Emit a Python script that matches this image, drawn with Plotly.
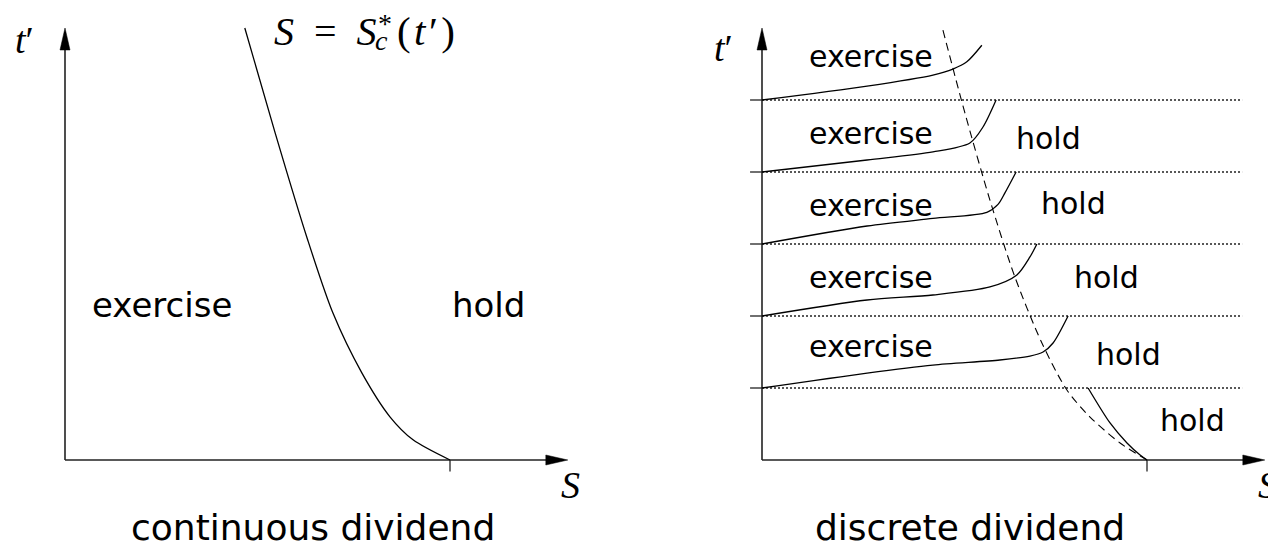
import plotly.graph_objects as go

# Units: S in multiples of the strike K, t' in dividend periods.
PX_PER_S = 385.0   # horizontal pixels per unit of S
PX_PER_T = 72.0    # vertical pixels per unit of t'

strike = 1.0
axis_S_max = 1.306
axis_t_max = 6.0

# ---- continuous dividend: optimal exercise boundary S = S_c*(t')
cont_S = [0.467, 0.546, 0.629, 0.696, 0.771, 0.844, 0.904, 1.0]
cont_t = [6.0, 4.54, 3.08, 2.04, 1.21, 0.60, 0.28, 0.0]

# ---- discrete dividend: dividend dates and the boundary between them
div_times = [1, 2, 3, 4, 5]
seg1_S = [0.0, 0.273, 0.444, 0.496, 0.532, 0.571]
seg1_t = [5.0, 5.194, 5.347, 5.43, 5.53, 5.76]
seg2_S = [0.0, 0.273, 0.444, 0.540, 0.574, 0.608]
seg2_t = [4.0, 4.167, 4.278, 4.403, 4.625, 5.0]
seg3_S = [0.0, 0.273, 0.444, 0.584, 0.613, 0.631, 0.660]
seg3_t = [3.0, 3.25, 3.355, 3.44, 3.55, 3.71, 4.0]
seg4_S = [0.0, 0.273, 0.444, 0.592, 0.662, 0.696, 0.714]
seg4_t = [2.0, 2.222, 2.292, 2.403, 2.57, 2.82, 3.0]
seg5_S = [0.0, 0.273, 0.444, 0.618, 0.696, 0.730, 0.756, 0.795]
seg5_t = [1.0, 1.208, 1.319, 1.389, 1.444, 1.5, 1.625, 2.0]
seg6_S = [0.847, 0.904, 0.948, 0.982, 1.0]
seg6_t = [1.0, 0.514, 0.236, 0.069, 0.0]
segments = [(seg1_S, seg1_t), (seg2_S, seg2_t), (seg3_S, seg3_t),
            (seg4_S, seg4_t), (seg5_S, seg5_t), (seg6_S, seg6_t)]

# continuous-dividend boundary shown dashed for comparison
ref_S = [0.470, 0.527, 0.592, 0.657, 0.727, 0.792, 0.852, 0.930, 1.0]
ref_t = [5.97, 4.82, 3.61, 2.54, 1.625, 0.972, 0.597, 0.236, 0.0]

# ---- region labels: (text, S, t')
left_labels = [("exercise", 0.253, 2.153), ("hold", 1.101, 2.153)]
right_exercise = [("exercise", 0.283, 5.611), ("exercise", 0.283, 4.528),
                  ("exercise", 0.283, 3.528), ("exercise", 0.283, 2.528),
                  ("exercise", 0.283, 1.583)]
right_hold = [("hold", 0.743, 4.472), ("hold", 0.808, 3.569),
              ("hold", 0.894, 2.528), ("hold", 0.953, 1.472),
              ("hold", 1.117, 0.542)]

SANS = "DejaVu Sans"
SERIF = "Liberation Serif"
INK = "black"

fig = go.Figure()


def line(xs, ys, xaxis, width=1.2, dash=None, color=INK, shape="spline"):
    fig.add_trace(go.Scatter(
        x=xs, y=ys, xaxis=xaxis, yaxis="y", mode="lines",
        line=dict(color=color, width=width, dash=dash, shape=shape,
                  smoothing=0.8 if shape == "spline" else None),
        hoverinfo="skip", showlegend=False))


def arrowhead(xref, tip_x, tip_y, direction):
    """Filled triangular arrowhead, 22 px long and 10 px wide."""
    L, H = 22.0, 5.0
    if direction == "right":
        dx, dy = L / PX_PER_S, H / PX_PER_T
        pts = [(tip_x, tip_y), (tip_x - dx, tip_y + dy), (tip_x - dx, tip_y - dy)]
    else:
        dx, dy = H / PX_PER_S, L / PX_PER_T
        pts = [(tip_x, tip_y), (tip_x - dx, tip_y - dy), (tip_x + dx, tip_y - dy)]
    path = "M " + " L ".join(f"{x},{y}" for x, y in pts) + " Z"
    fig.add_shape(type="path", path=path, xref=xref, yref="y",
                  fillcolor=INK, line=dict(color=INK, width=0.5))


def axes(xaxis, xref):
    line([0, axis_S_max - 10 / PX_PER_S], [0, 0], xaxis, width=1.6, color="#222", shape="linear")
    line([0, 0], [0, axis_t_max - 10 / PX_PER_T], xaxis, width=1.6, color="#222", shape="linear")
    arrowhead(xref, axis_S_max, 0, "right")
    arrowhead(xref, 0, axis_t_max, "up")
    # strike tick on the S axis
    line([strike, strike], [0, -0.16], xaxis, width=1.3, color="#222", shape="linear")


# ---------------- left panel: continuous dividend
axes("x", "x")
line(cont_S, cont_t, "x", width=1.3)

# ---------------- right panel: discrete dividend
axes("x2", "x2")
for td in div_times:
    line([-0.031, 0], [td, td], "x2", width=1.3, color="#222", shape="linear")
    line([0, 1.247], [td, td], "x2", width=1.3, dash="2px,2px", color="#222", shape="linear")
line(ref_S, ref_t, "x2", width=1.1, dash="8px,5px")
for sx, st in segments:
    line(sx, st, "x2", width=1.3)


def text(t, x, y, xref, size, family=SANS, xanchor="center", yanchor="middle", height=None):
    fig.add_annotation(text=t, x=x, y=y, xref=xref, yref="y", showarrow=False,
                       xanchor=xanchor, yanchor=yanchor, height=height,
                       font=dict(family=family, size=size, color=INK))


for t, x, y in left_labels:
    text(t, x, y, "x", 34)
for t, x, y in right_exercise + right_hold:
    text(t, x, y, "x2", 30)

text("continuous dividend", 0.644, -0.93, "x", 36, height=30)
text("discrete dividend", 0.540, -0.93, "x2", 36, height=30)

# axis names
text("<i>t</i>′", -0.104, 5.83, "x", 38, SERIF)
text("<i>S</i>", 1.314, -0.347, "x", 38, SERIF)
text("<i>t</i>′", -0.101, 5.722, "x2", 38, SERIF)
text("<i>S</i>", 1.314, -0.347, "x2", 38, SERIF)

# boundary label  S = S_c*(t'), with the * and c stacked after the second S
text("<i>S</i>\u2002=\u2002<i>S</i>", 0.538, 5.958, "x", 40, SERIF, xanchor="left")
text("*", 0.831, 6.06, "x", 28, SERIF)
text("<i>c</i>", 0.823, 5.83, "x", 28, SERIF)
text("(\u200a<i>t</i>\u200a′\u200a)", 0.857, 5.958, "x", 41, SERIF, xanchor="left")

W, H = 1268, 541
hidden = dict(visible=False, showgrid=False, zeroline=False, fixedrange=True)
fig.update_layout(
    width=W, height=H,
    margin=dict(l=0, r=0, t=0, b=0),
    paper_bgcolor="white", plot_bgcolor="white",
    showlegend=False,
    xaxis=dict(domain=[0, 1], range=[-65 / PX_PER_S, (W - 65) / PX_PER_S], **hidden),
    xaxis2=dict(domain=[0, 1], overlaying="x", range=[-762 / PX_PER_S, (W - 762) / PX_PER_S], **hidden),
    yaxis=dict(domain=[0, 1], range=[-(H - 460) / PX_PER_T, 460 / PX_PER_T], **hidden),
)

fig.write_html("out.html")
